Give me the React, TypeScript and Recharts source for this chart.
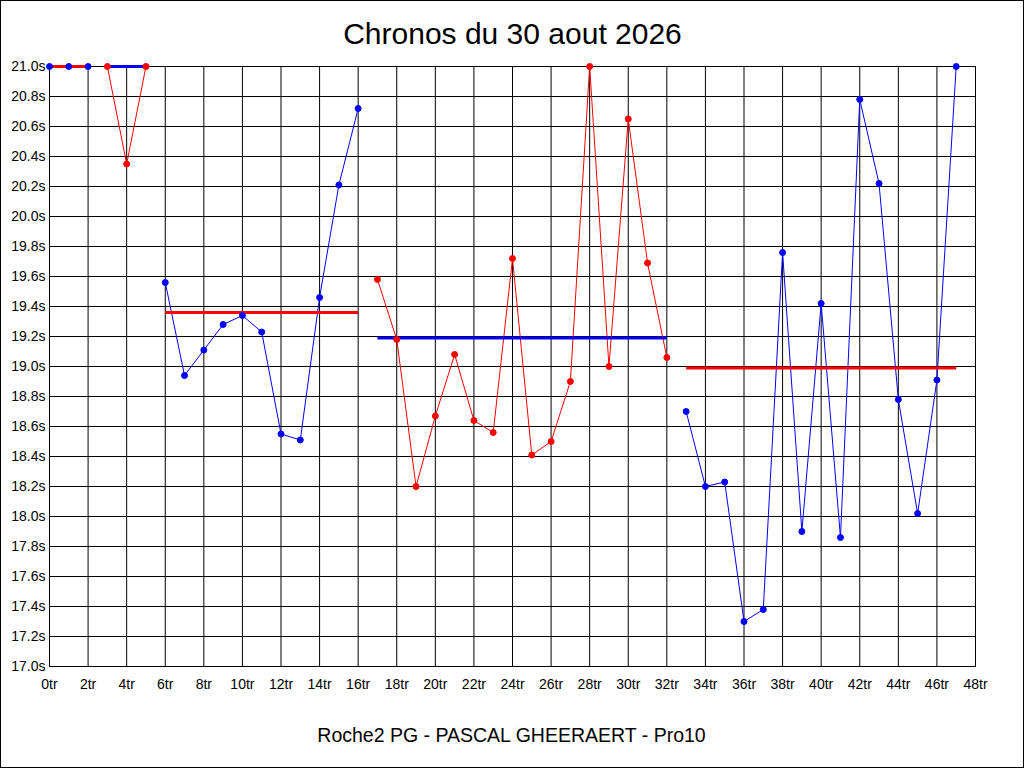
import React from "react";
import { ComposedChart, Line, XAxis, YAxis, CartesianGrid } from "recharts";

const TITLE = "Chronos du 30 aout 2026";
const FOOTER = "Roche2 PG - PASCAL GHEERAERT - Pro10";

// lap times (s), lap index 0..47
const LAP_TIMES = [
  21.0, 21.0, 21.0,
  21.0, 20.35, 21.0,
  19.56, 18.94, 19.11, 19.28, 19.34, 19.23, 18.55, 18.51, 19.46, 20.21, 20.72,
  19.58, 19.18, 18.2, 18.67, 19.08, 18.64, 18.56, 19.72, 18.41, 18.5, 18.9, 21.0, 19.0, 20.65, 19.69, 19.06,
  18.7, 18.2, 18.23, 17.3, 17.38, 19.76, 17.9, 19.42, 17.86, 20.78, 20.22, 18.78, 18.02, 18.91, 21.0,
];

const SESSION_STARTS = [0, 3, 6, 17, 33];
const SESSION_ENDS = [2, 5, 16, 32, 47];
const SESSION_COLORS = ["#0000ff", "#ff0000", "#0000ff", "#ff0000", "#0000ff"];
const AVG_COLORS = ["#ff0000", "#0000ff", "#ff0000", "#0000ff", "#ff0000"];
const AVG_VALUES = [21.0, 21.0, 19.36, 19.19, 18.99];

const X_TICKS = [0, 2, 4, 6, 8, 10, 12, 14, 16, 18, 20, 22, 24, 26, 28, 30, 32, 34, 36, 38, 40, 42, 44, 46, 48];
const Y_TICKS = [17.0, 17.2, 17.4, 17.6, 17.8, 18.0, 18.2, 18.4, 18.6, 18.8, 19.0, 19.2, 19.4, 19.6, 19.8, 20.0, 20.2, 20.4, 20.6, 20.8, 21.0];

const sessions = SESSION_STARTS.map((start, i) => {
  const end = SESSION_ENDS[i];
  const pts = LAP_TIMES.slice(start, end + 1).map((t, j) => ({ x: start + j, y: t }));
  const avg = [
    { x: start, y: AVG_VALUES[i] },
    { x: end, y: AVG_VALUES[i] },
  ];
  return { pts, avg, color: SESSION_COLORS[i], avgColor: AVG_COLORS[i] };
});

const tickStyle = { fontFamily: "'Liberation Sans', Arial, sans-serif", fontSize: 14, fill: "#000" };

export default function App() {
  return (
    <div style={{ position: "absolute", left: 0, top: 0, width: 1024, height: 768, background: "#fff" }}>
      <ComposedChart width={1024} height={768} margin={{ top: 66.5, right: 0.5, bottom: 71.5, left: 0.5 }}>
        <CartesianGrid stroke="#000" strokeWidth={1} />
        <XAxis
          type="number"
          dataKey="x"
          domain={[0, 48]}
          ticks={X_TICKS}
          interval={0}
          tickFormatter={(v) => `${v}tr`}
          tick={tickStyle}
          tickSize={0}
          tickMargin={13}
          height={30}
          axisLine={{ stroke: "#000" }}
        />
        <YAxis
          type="number"
          domain={[17, 21]}
          ticks={Y_TICKS}
          interval={0}
          tickFormatter={(v) => `${Number(v).toFixed(1)}s`}
          tick={tickStyle}
          tickSize={0}
          tickMargin={4}
          width={49}
          axisLine={{ stroke: "#000" }}
        />
        <YAxis
          yAxisId="r"
          orientation="right"
          type="number"
          domain={[17, 21]}
          ticks={Y_TICKS}
          interval={0}
          tickFormatter={(v) => `${Number(v).toFixed(1)}s`}
          tick={tickStyle}
          tickSize={0}
          tickMargin={3}
          width={48}
          axisLine={{ stroke: "#000" }}
        />
        {sessions.map((s, i) => (
          <Line
            key={`line-${i}`}
            data={s.pts}
            dataKey="y"
            type="linear"
            stroke={s.color}
            strokeWidth={1}
            dot={false}
            activeDot={false}
            isAnimationActive={false}
          />
        ))}
        {sessions.map((s, i) => (
          <Line
            key={`avg-${i}`}
            data={s.avg}
            dataKey="y"
            type="linear"
            stroke={s.avgColor}
            strokeWidth={3}
            dot={false}
            activeDot={false}
            isAnimationActive={false}
          />
        ))}
        {sessions.map((s, i) => (
          <Line
            key={`dots-${i}`}
            data={s.pts}
            dataKey="y"
            type="linear"
            stroke="none"
            dot={{ r: 3, fill: s.color, stroke: s.color, strokeWidth: 1 }}
            activeDot={false}
            isAnimationActive={false}
          />
        ))}
      </ComposedChart>
      <svg
        width={1024}
        height={768}
        style={{ position: "absolute", left: 0, top: 0, pointerEvents: "none" }}
      >
        <rect x={0.5} y={0.5} width={1023} height={767} fill="none" stroke="#000" strokeWidth={1} />
        <text
          x={512.5}
          y={43.5}
          textAnchor="middle"
          fontFamily="'Liberation Sans', Arial, sans-serif"
          fontSize={30}
          fill="#000"
        >
          {TITLE}
        </text>
        <text
          x={511.5}
          y={741.5}
          textAnchor="middle"
          fontFamily="'Liberation Sans', Arial, sans-serif"
          fontSize={19.5}
          fill="#000"
        >
          {FOOTER}
        </text>
      </svg>
    </div>
  );
}
